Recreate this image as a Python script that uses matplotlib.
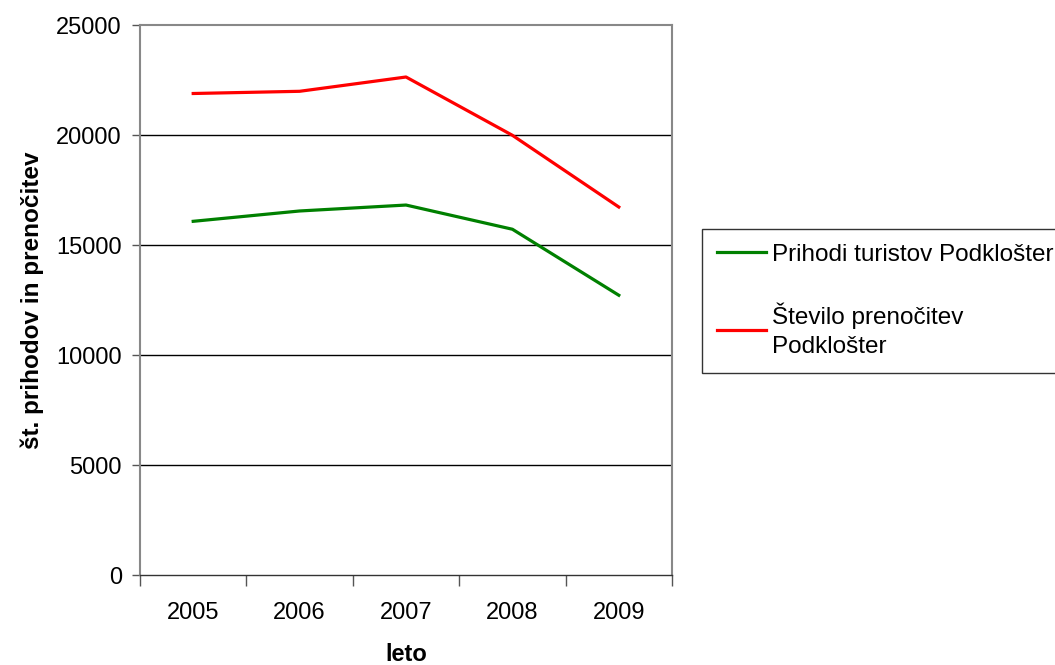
import matplotlib
matplotlib.use("Agg")
import matplotlib.pyplot as plt

# podatki
leta = ["2005", "2006", "2007", "2008", "2009"]
prihodi = [16090, 16560, 16830, 15730, 12730]
prenocitve = [21900, 22000, 22650, 20000, 16740]

plt.rcParams['font.family'] = ['Liberation Sans', 'DejaVu Sans']

fig = plt.figure(figsize=(10.55, 6.65), dpi=100)
ax = fig.add_axes([140/1055, 1-575.3/665, 532/1055, 550/665])

x = list(range(len(leta)))
ax.plot(x, prihodi, color='#008000', linewidth=2.3, label='Prihodi turistov Podklošter')
ax.plot(x, prenocitve, color='#ff0000', linewidth=2.3, label='Število prenočitev\nPodklošter')

ax.set_xlim(-0.5, len(leta) - 0.5)
ax.set_ylim(0, 25000)
ax.set_yticks(range(0, 25001, 5000))
# kategorijska os: kljukice med leti, oznake na sredini
ax.set_xticks([i - 0.5 for i in range(len(leta) + 1)])
ax.set_xticklabels([])
ax.set_xticks(x, minor=True)
ax.set_xticklabels(leta, minor=True)
ax.tick_params(axis='x', which='minor', length=0, pad=19, labelsize=17)
ax.tick_params(axis='x', which='major', length=8, width=1, color='#555555')
ax.tick_params(axis='y', length=6, width=1, color='#555555', labelsize=17, pad=7)

for y in range(5000, 25000, 5000):
    ax.axhline(y, color='black', linewidth=1, zorder=0)

for s in ['left', 'right', 'top']:
    ax.spines[s].set_color('#888888')
    ax.spines[s].set_linewidth(1.5)
ax.spines['bottom'].set_color('#333333')
ax.spines['bottom'].set_linewidth(1)

ax.set_ylabel('št. prihodov in prenočitev', fontsize=17.5, fontweight='bold', labelpad=9)
ax.set_xlabel('leto', fontsize=17, fontweight='bold', labelpad=14)

leg = fig.legend(loc='upper left', bbox_to_anchor=(702/1055, 1-229/665),
                 fontsize=17.5, frameon=True, fancybox=False, handlelength=2.05,
                 handletextpad=0.25, labelspacing=1.5, borderpad=0.6, borderaxespad=0)
for t in leg.get_texts():
    t.set_linespacing(1.45)
leg.get_frame().set_edgecolor('black')
leg.get_frame().set_linewidth(1)

fig.savefig('out.png', dpi=100)
